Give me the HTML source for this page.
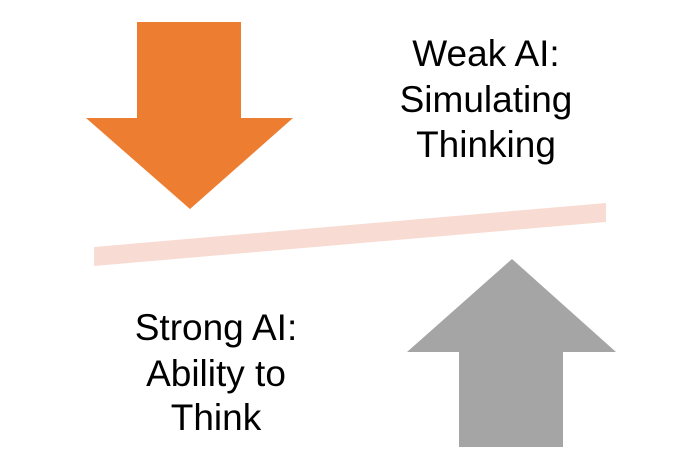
<!DOCTYPE html>
<html><head><style>
html,body{margin:0;padding:0;background:#fff;}
body{width:700px;height:466px;position:relative;overflow:hidden;font-family:"Liberation Sans",sans-serif;}
svg{position:absolute;left:0;top:0;}
</style></head><body>
<svg width="700" height="466" viewBox="0 0 700 466">
<polygon points="137,22 241,22 241,118 293,118 190,209 86,118 137,118" fill="#ed7d31"/>
<polygon points="94,247 606,203 606,222 94,266" fill="#f8dcd3"/>
<polygon points="512,259 616,352 563,352 563,447 459,447 459,352 407,352" fill="#a5a5a5"/>
<g font-family="Liberation Sans, sans-serif" font-size="37" fill="#000" text-anchor="middle">
<text x="486" y="66">Weak AI:</text>
<text x="486" y="112">Simulating</text>
<text x="486" y="157">Thinking</text>
<text x="216" y="340">Strong AI:</text>
<text x="216" y="386">Ability to</text>
<text x="216" y="430">Think</text>
</g>
</svg>
</body></html>
